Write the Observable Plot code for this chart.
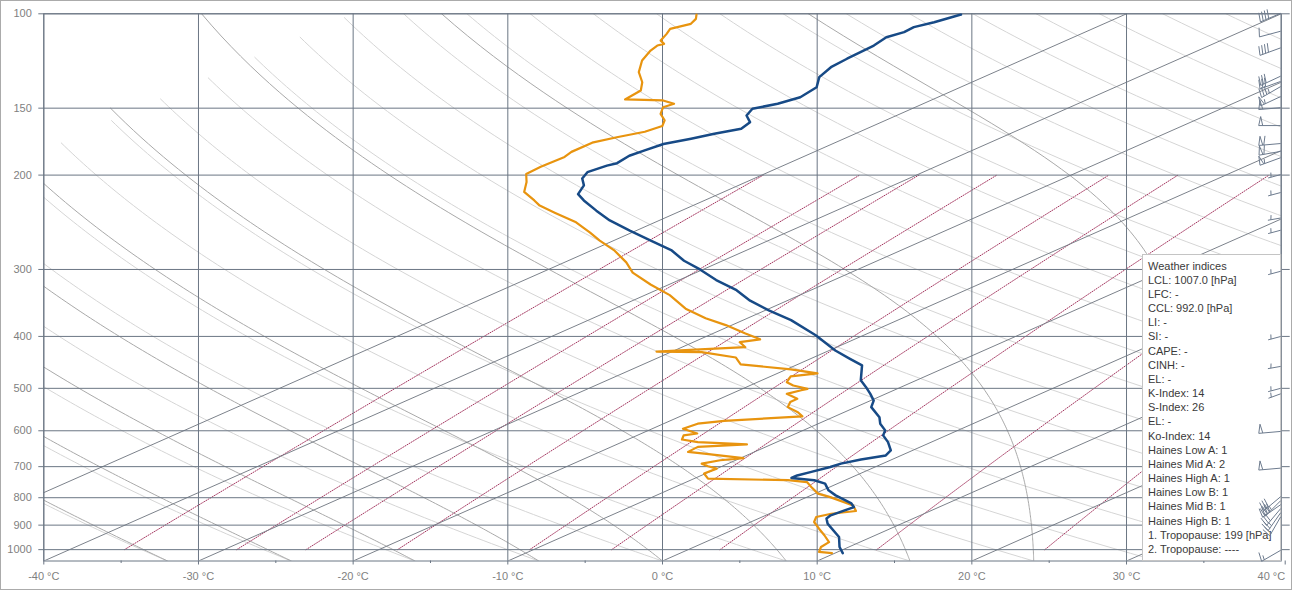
<!DOCTYPE html>
<html><head><meta charset="utf-8">
<script src="https://cdn.jsdelivr.net/npm/d3@7"></script>
<script src="https://cdn.jsdelivr.net/npm/@observablehq/plot@0.6"></script>
<style>
html,body{margin:0;padding:0;background:#fff;}
#chart{position:relative;width:1292px;height:590px;overflow:hidden;}
#chart::after{content:"";position:absolute;left:0;top:0;right:0;bottom:0;border:1px solid #ababab;pointer-events:none;}
#chart svg{display:block;}
</style></head><body><div id="chart"></div>
<script>
// ---------- data ----------
const pressureTicks = [100,150,200,300,400,500,600,700,800,900,1000];
const tempTicks = [-40,-30,-20,-10,0,10,20,30,40];
const minorTempTicks = [-35,-25,-15,-5,5,15,25,35];
const isotherms = [-50,-40,-30,-20,-10,0,10,20,30];
const dryBaseT = [-40,-32,-24,-16,-8,0,8,16,24,32,40,48,56,64,72,80,88,96,104,112,120,128,136,144,152,160,168,176,184];
const moistBaseT = [-40,-32,-24,-16,-8,0,8,16,24,32];
const mixingRatios = [0.2,0.4,0.6,1,2,3,5,10,20];

const tempP = [1015,988.7,947,894,875,863,833,820,792,775,753,742,735,727,716,701,691,679,667,653,630,612,599,582,566,542,527,512,497,483,453,440,425,398,373,358,343,328,314,300,289,276,265,254,243,233,223,217,209,203,197.5,192,190,184,180,175,171,167.5,163.9,159.3,154.8,150.4,147.2,143.1,137.1,131.3,125.8,121.3,117.9,114.6,110.6,108.2,105.9,103.7,100.3];
const tempT = [10.5,9.4,7.9,5.2,4.4,4.2,4.5,3.8,1.6,0.4,-0.8,-2.0,-3.8,-3.8,-3.4,-2.9,-2.7,-2.0,-1.0,-1.4,-2.8,-4.1,-4.7,-6.0,-7.0,-9.0,-9.8,-11.0,-12.3,-13.6,-15.7,-17.5,-19.6,-23.1,-26.9,-29.7,-32.4,-34.8,-37.6,-40.2,-42.5,-44.9,-47.6,-50.4,-53.2,-55.5,-57.8,-59.1,-60.0,-61.1,-61.7,-61.4,-61.1,-61.4,-61.2,-60.9,-59.9,-59.1,-58.1,-58.5,-59.7,-60.3,-59.4,-58.9,-59.3,-60.6,-61.3,-61.5,-61.6,-61.7,-62.1,-61.7,-61.8,-61.2,-60.6];

const dewP = [1015,1010,988.7,968,940,914,888,869,857,847,827,798,786,764,748,742,737,721,706,699,691,681,675,662,657,643,636,630,623,612,607,595,582,575,564,554,542,530,523,512,504,501,494,487,475,469,461,451,438,428,427,423,419,410,405,395,381,370,355,335,320,304,291,276,265,256,245,235,228,223,215,206,199,193,185,181,174,170,166,162,158,153.7,149.4,147.2,145.1,144.5,139,134.2,128.5,122.2,117.1,114.6,113.8,112.2,109,106.7,104.4,102.2,100.3];
const dewT = [9.8,8.8,8.2,8.0,6.7,5.4,4.1,3.5,4.0,5.2,4.2,1.5,0.2,-1.2,-2.2,-3.7,-9.1,-10.1,-10.0,-10.9,-11.7,-11.0,-9.8,-13.0,-14.3,-14.4,-11.6,-15.1,-16.5,-17.0,-16.4,-18.0,-17.8,-16.5,-12.1,-13.0,-14.4,-15.0,-15.0,-16.4,-16.0,-15.8,-17.2,-18.1,-18.7,-17.4,-19.7,-23.7,-25.0,-28.0,-31.0,-28.5,-25.9,-27.0,-26.1,-27.9,-30.4,-32.7,-35.4,-38.4,-41.2,-44.1,-46.0,-48.6,-50.9,-52.7,-55.1,-57.9,-59.9,-61.0,-62.9,-64.2,-65.4,-65.5,-65.4,-65.7,-65.7,-64.9,-63.9,-63.6,-64.3,-65.5,-66.3,-66.1,-67.3,-69.9,-70.2,-71.3,-73.0,-74.5,-75.4,-75.7,-75.5,-76.2,-76.8,-77.3,-76.7,-77.1,-77.7];

const windP     = [100,108,116,131,134,137,143,150,162,175,181,186,200,216,241,254,303,401,456,501,513,603,706,798,812,826,840,855,870,1005];
const windDir   = [247,255,250,245,250,240,245,265,270,265,260,250,255,255,260,255,255,255,260,255,250,265,265,230,225,235,220,215,210,240];
const windSpeed = [40,10,40,30,30,35,55,50,50,60,60,55,3,3,3,3,3,3,3,3,3,50,50,30,35,40,30,25,20,15];

const indexLines = ["Weather indices","LCL: 1007.0 [hPa]","LFC: -","CCL: 992.0 [hPa]","LI: -","SI: -","CAPE: -","CINH: -","EL: -","K-Index: 14","S-Index: 26","EL: -","Ko-Index: 14","Haines Low A: 1","Haines Mid A: 2","Haines High A: 1","Haines Low B: 1","Haines Mid B: 1","Haines High B: 1","1. Tropopause: 199 [hPa]","2. Tropopause: ----"];

// ---------- thermodynamics / skew ----------
const P_BOTTOM = 1050, P_TOP = 100;
const SKEW = 80 / Math.log(P_BOTTOM / P_TOP);
const skewX = (t, p) => t + SKEW * Math.log(P_BOTTOM / p);
const Rd = 287.04, Cp = 1005.7, Lv = 2.501e6, EPS = 0.622, KAPPA = Rd / Cp;
const esat = tc => 6.112 * Math.exp(17.67 * tc / (tc + 243.5));

const dryData = [];
dryBaseT.forEach((tb, id) => {
  const theta = (tb + 273.15) * Math.pow(1000 / P_BOTTOM, KAPPA);
  const pEnd = Math.max(P_TOP, 1000 * Math.pow(173.15 / theta, 1 / KAPPA));
  if (pEnd >= P_BOTTOM) return;
  const n = 120;
  for (let i = 0; i <= n; i++) {
    const p = P_BOTTOM * Math.pow(pEnd / P_BOTTOM, i / n);
    const t = theta * Math.pow(p / 1000, KAPPA) - 273.15;
    dryData.push({id, x: skewX(t, p), p});
  }
});

function moistLapse(tK, p) {
  const es = esat(tK - 273.15);
  const rs = EPS * es / (p - es);
  return (Rd * tK + Lv * rs) / (Cp + Lv * Lv * rs * EPS / (Rd * tK * tK)) / p;
}
const moistData = [];
moistBaseT.forEach((tb, id) => {
  let t = tb + 273.15;
  moistData.push({id, x: skewX(tb, P_BOTTOM), p: P_BOTTOM});
  for (let p = P_BOTTOM; p > P_TOP; p -= 1) {
    const h = -1;
    const k1 = moistLapse(t, p), k2 = moistLapse(t + h / 2 * k1, p + h / 2),
          k3 = moistLapse(t + h / 2 * k2, p + h / 2), k4 = moistLapse(t + h * k3, p + h);
    t += h / 6 * (k1 + 2 * k2 + 2 * k3 + k4);
    const pn = p - 1;
    if (pn % 5 === 0) moistData.push({id, x: skewX(t - 273.15, pn), p: pn});
    if (pn % 50 === 0 && t - 273.15 < -100) break;
  }
});

const MIX_OFFSET = SKEW * Math.log(P_BOTTOM / 1000);
const mixData = [];
mixingRatios.forEach((r, id) => {
  for (let i = 0; i <= 40; i++) {
    const p = 1000 * Math.pow(0.2, i / 40);
    const e = r * p / (622 + r);
    const L = Math.log(e / 6.112);
    const td = 243.5 * L / (17.67 - L);
    const x = skewX(td, p) - MIX_OFFSET * Math.log(p / 200) / Math.log(5);
    mixData.push({id, x, p});
  }
});

const tempData = tempP.map((p, i) => ({p, x: skewX(tempT[i], p)}));
const dewData = dewP.map((p, i) => ({p, x: skewX(dewT[i], p)}));

// ---------- colours ----------
const gridColor = "#6b7684", isoColor = "#7c828b", moistColor = "#a9a9a9", dryColor = "#d5d5d5",
      mixColor = "#a3345e", tColor = "#174a86", dColor = "#e8940f", barbColor = "#6d7b8e",
      labelColor = "#7f7f7f", textColor = "#3a3a3a";

// ---------- custom render marks ----------
function legendMark(index, scales, values, dim) {
  const g = d3.create("svg:g").attr("text-anchor", "start");
  const right = dim.width - dim.marginRight, bottom = dim.height - dim.marginBottom;
  const left = 1142.5, top = 254.5;
  g.append("rect").attr("x", left).attr("y", top).attr("width", right - left).attr("height", bottom - top)
    .attr("fill", "#fff").attr("stroke", "#c4c4c4");
  g.selectAll("text").data(indexLines).join("text")
    .attr("x", left + 5.5).attr("y", (d, i) => 265.7 + i * 14.17).attr("dy", "0.35em")
    .attr("text-anchor", "start")
    .attr("fill", textColor).attr("font-size", 11).text(d => d);
  return g.node();
}
function barbMark(index, scales, values, dim) {
  const g = d3.create("svg:g").attr("stroke", barbColor).attr("fill", "none").attr("stroke-width", 1);
  const yS = (scales && scales.y) ? scales.y
    : d3.scaleLog().domain([P_TOP, P_BOTTOM]).range([dim.marginTop, dim.height - dim.marginBottom]);
  const ax = dim.width - dim.marginRight;
  windP.forEach((p, i) => {
    const ay = yS(p), dir = windDir[i] * Math.PI / 180, spd = windSpeed[i];
    const u = [Math.sin(dir), -Math.cos(dir)];
    const perp = [-u[1], u[0]];
    const L = spd < 5 ? 13 : 22;
    const ex = ax + L * u[0], ey = ay + L * u[1];
    g.append("line").attr("x1", ax).attr("y1", ay).attr("x2", ex).attr("y2", ey);
    const b = [perp[0] * 9 - u[0] * 2, perp[1] * 9 - u[1] * 2];
    let s = Math.round(spd / 5) * 5, pos = 0;
    while (s >= 50) {
      const px = ex - pos * u[0], py = ey - pos * u[1];
      const qx = ex - (pos + 4) * u[0], qy = ey - (pos + 4) * u[1];
      g.append("path").attr("d", `M${px},${py}L${px + b[0]},${py + b[1]}L${qx},${qy}`);
      pos += 5; s -= 50;
    }
    while (s >= 10) {
      const px = ex - pos * u[0], py = ey - pos * u[1];
      g.append("line").attr("x1", px).attr("y1", py).attr("x2", px + b[0]).attr("y2", py + b[1]);
      pos += 3; s -= 10;
    }
    if (s >= 5) {
      if (pos === 0) pos = 3;
      const px = ex - pos * u[0], py = ey - pos * u[1];
      g.append("line").attr("x1", px).attr("y1", py).attr("x2", px + b[0] / 2).attr("y2", py + b[1] / 2);
    }
  });
  return g.node();
}

// ---------- plot ----------
const fmtT = d => `${d} °C`;
const chart = Plot.plot({
  width: 1292, height: 590,
  marginLeft: 43.3, marginRight: 11.3, marginTop: 13.3, marginBottom: 29.5,
  style: {fontFamily: "'Liberation Sans', Arial, sans-serif", fontSize: "11px", background: "transparent"},
  x: {domain: [-40, 40]},
  y: {type: "log", domain: [P_TOP, P_BOTTOM], reverse: true},
  marks: [
    Plot.line(dryData, {x: "x", y: "p", z: "id", stroke: dryColor, strokeWidth: 1, clip: true}),
    Plot.line(moistData, {x: "x", y: "p", z: "id", stroke: moistColor, strokeWidth: 1, clip: true}),
    Plot.line(mixData, {x: "x", y: "p", z: "id", stroke: mixColor, strokeWidth: 1, strokeDasharray: "1,1.5", clip: true}),
    Plot.link(isotherms, {x1: t => skewX(t, P_BOTTOM), y1: () => P_BOTTOM, x2: t => skewX(t, P_TOP), y2: () => P_TOP, stroke: isoColor, strokeWidth: 1, clip: true}),
    Plot.ruleX(tempTicks, {stroke: gridColor, strokeWidth: 1}),
    Plot.ruleY(pressureTicks, {stroke: gridColor, strokeWidth: 1}),
    Plot.frame({stroke: gridColor}),
    Plot.axisY({anchor: "left", ticks: pressureTicks, tickSize: 5, tickPadding: 7, tickFormat: d => String(d), stroke: gridColor, fill: labelColor, label: null}),
    Plot.axisY({anchor: "right", ticks: pressureTicks, tickSize: 8, tickFormat: () => "", stroke: gridColor, fill: labelColor, label: null}),
    Plot.axisX({anchor: "bottom", ticks: tempTicks.slice(0, -1), tickSize: 4, tickPadding: 7, tickFormat: fmtT, stroke: gridColor, fill: labelColor, label: null}),
    Plot.axisX({anchor: "bottom", ticks: tempTicks.slice(-1), tickSize: 4, tickPadding: 7, tickFormat: fmtT, textAnchor: "end", dx: 4, stroke: gridColor, fill: labelColor, label: null}),
    Plot.axisX({anchor: "bottom", ticks: minorTempTicks, tickSize: 2.5, tickFormat: () => "", stroke: gridColor, fill: labelColor, label: null}),
    Plot.line(dewData, {x: "x", y: "p", stroke: dColor, strokeWidth: 2.2, clip: true}),
    Plot.line(tempData, {x: "x", y: "p", stroke: tColor, strokeWidth: 2.5, clip: true}),
    legendMark,
    barbMark
  ]
});
document.getElementById("chart").appendChild(chart);
</script>
</body></html>
